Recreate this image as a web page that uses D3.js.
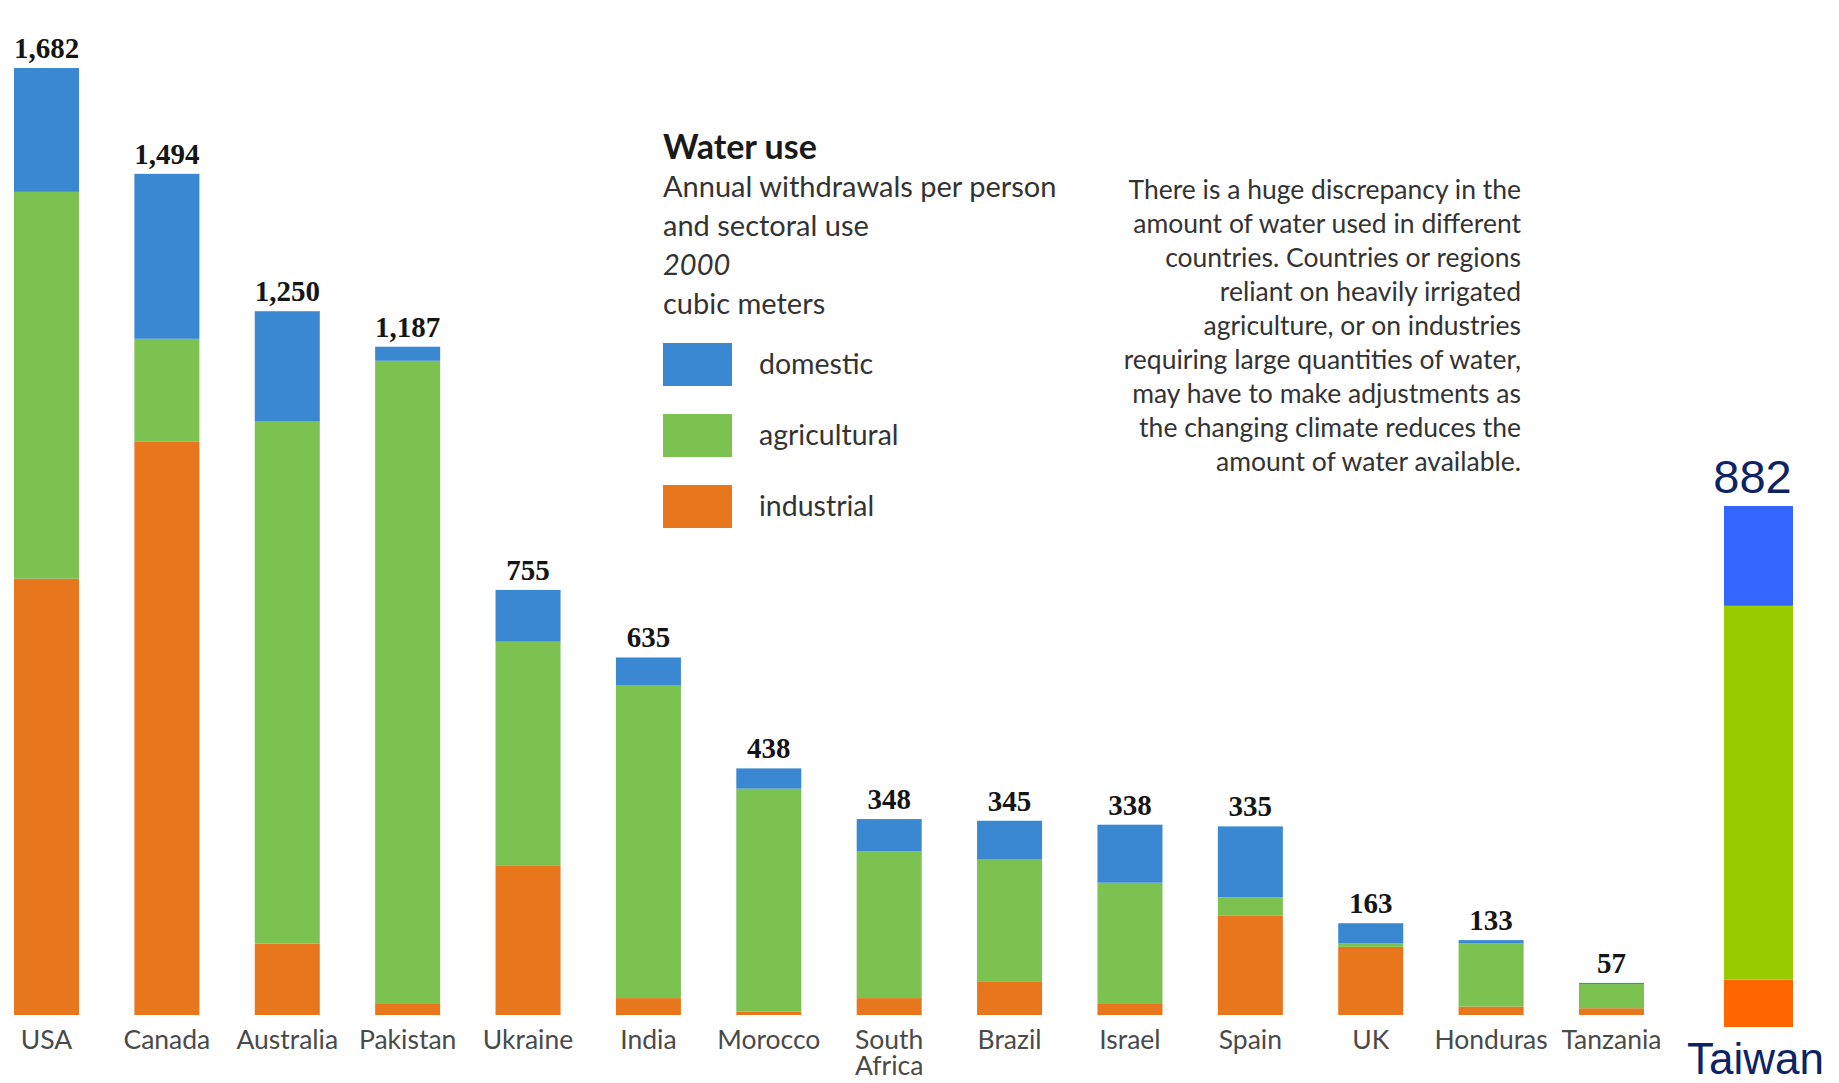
<!DOCTYPE html>
<html>
<head>
<meta charset="utf-8">
<script src="https://cdn.jsdelivr.net/npm/d3@7"></script>
<style>
  body { margin: 0; background: #fff; }
  svg { display: block; }
</style>
</head>
<body>
<svg width="1839" height="1083"></svg>
<script>
const countries = ["USA", "Canada", "Australia", "Pakistan", "Ukraine", "India", "Morocco",
  "South Africa", "Brazil", "Israel", "Spain", "UK", "Honduras", "Tanzania"];
const totals = [1682, 1494, 1250, 1187, 755, 635, 438, 348, 345, 338, 335, 163, 133, 57];
const domestic = [220, 293, 195, 25, 92, 50, 36, 57, 69, 103, 126, 36, 6, 2];
const agricultural = [687, 183, 928, 1141, 397, 555, 396, 261, 216, 214, 32, 6, 112, 43];
const industrial = [775, 1018, 127, 21, 266, 30, 6, 30, 60, 21, 177, 121, 15, 12];

const taiwan = { name: "Taiwan", total: 882, domestic: 169, agricultural: 633, industrial: 80 };

const keys = ["industrial", "agricultural", "domestic"];
const legendKeys = ["domestic", "agricultural", "industrial"];
const color = { domestic: "#3a88d2", agricultural: "#7cc251", industrial: "#e8761d" };
const colorTw = { domestic: "#3366ff", agricultural: "#99cc00", industrial: "#ff6600" };

const legendLines = ["Annual withdrawals per person", "and sectoral use", "2000", "cubic meters"];

const paragraph = [
  "There is a huge discrepancy in the",
  "amount of water used in different",
  "countries. Countries or regions",
  "reliant on heavily irrigated",
  "agriculture, or on industries",
  "requiring large quantities of water,",
  "may have to make adjustments as",
  "the changing climate reduces the",
  "amount of water available."
];

const rows = countries.map((c, i) => ({
  country: c, total: totals[i],
  domestic: domestic[i], agricultural: agricultural[i], industrial: industrial[i]
}));

const svg = d3.select("svg");

const x = d3.scaleBand().domain(countries).range([14, 1644]).paddingInner(0.46).paddingOuter(0);
const y = d3.scaleLinear().domain([0, 1682]).range([1015, 68]);

const stacked = d3.stack().keys(keys)(rows);

svg.append("g")
  .selectAll("g")
  .data(stacked)
  .join("g")
  .attr("fill", d => color[d.key])
  .selectAll("rect")
  .data(d => d)
  .join("rect")
  .attr("x", d => x(d.data.country))
  .attr("width", x.bandwidth())
  .attr("y", d => y(d[1]))
  .attr("height", d => y(d[0]) - y(d[1]));

// totals on top
svg.append("g")
  .selectAll("text")
  .data(rows)
  .join("text")
  .attr("x", d => x(d.country) + x.bandwidth() / 2)
  .attr("y", d => y(d.total) - 10)
  .attr("text-anchor", "middle")
  .attr("font-family", "'Liberation Serif', serif")
  .attr("font-weight", "bold")
  .attr("font-size", 29)
  .attr("fill", "#151515")
  .text(d => d3.format(",")(d.total));

// country names
const names = svg.append("g")
  .selectAll("text")
  .data(countries)
  .join("text")
  .attr("x", d => x(d) + x.bandwidth() / 2)
  .attr("y", 1049)
  .attr("text-anchor", "middle")
  .attr("font-family", "Lato, sans-serif")
  .attr("font-size", 26.5)
  .attr("fill", "#4a4a4a");

names.selectAll("tspan")
  .data(d => d.split(" "))
  .join("tspan")
  .attr("x", function () { return d3.select(this.parentNode).attr("x"); })
  .attr("dy", (d, i) => i === 0 ? 0 : 26)
  .text(d => d);

// Taiwan bar, added on its own scale
const xT = d3.scaleBand().domain([taiwan.name]).range([1724, 1793]);
const yT = d3.scaleLinear().domain([0, taiwan.total]).range([1027, 506]);
const stackedTw = d3.stack().keys(keys)([taiwan]);

svg.append("g")
  .selectAll("rect")
  .data(stackedTw)
  .join("rect")
  .attr("fill", d => colorTw[d.key])
  .attr("x", xT(taiwan.name))
  .attr("width", xT.bandwidth())
  .attr("y", d => yT(d[0][1]))
  .attr("height", d => yT(d[0][0]) - yT(d[0][1]));

svg.append("text")
  .attr("x", xT(taiwan.name) + xT.bandwidth() / 2 - 6)
  .attr("y", yT(taiwan.total) - 13)
  .attr("text-anchor", "middle")
  .attr("font-family", "'Liberation Sans', Arial, sans-serif")
  .attr("font-size", 47)
  .attr("fill", "#0c2463")
  .text(taiwan.total);

svg.append("text")
  .attr("x", xT(taiwan.name) + xT.bandwidth() / 2 - 3)
  .attr("y", 1074)
  .attr("text-anchor", "middle")
  .attr("font-family", "'Liberation Sans', Arial, sans-serif")
  .attr("font-size", 44)
  .attr("fill", "#0c2463")
  .text(taiwan.name);

// legend block
const leg = svg.append("g").attr("font-family", "Lato, sans-serif").attr("fill", "#333");
leg.append("text").attr("x", 663).attr("y", 159)
  .attr("font-size", 34).attr("font-weight", "bold").attr("fill", "#1a1a1a").text("Water use");
leg.selectAll("text.sub")
  .data(legendLines)
  .join("text")
  .attr("class", "sub")
  .attr("x", 663)
  .attr("y", (d, i) => 197 + i * 39)
  .attr("font-size", 29)
  .attr("font-style", d => d === "2000" ? "italic" : "normal")
  .text(d => d);

const items = leg.selectAll("g.item")
  .data(legendKeys)
  .join("g")
  .attr("class", "item")
  .attr("transform", (d, i) => `translate(663,${343 + i * 71})`);
items.append("rect").attr("width", 69).attr("height", 43).attr("fill", d => color[d]);
items.append("text").attr("x", 96).attr("y", 31).attr("font-size", 28.5).text(d => d);

// explanatory note
svg.append("g")
  .selectAll("text")
  .data(paragraph)
  .join("text")
  .attr("x", 1521)
  .attr("y", (d, i) => 199 + i * 34)
  .attr("text-anchor", "end")
  .attr("font-family", "Lato, sans-serif")
  .attr("font-size", 26.5)
  .attr("fill", "#333")
  .text(d => d);
</script>
</body>
</html>
